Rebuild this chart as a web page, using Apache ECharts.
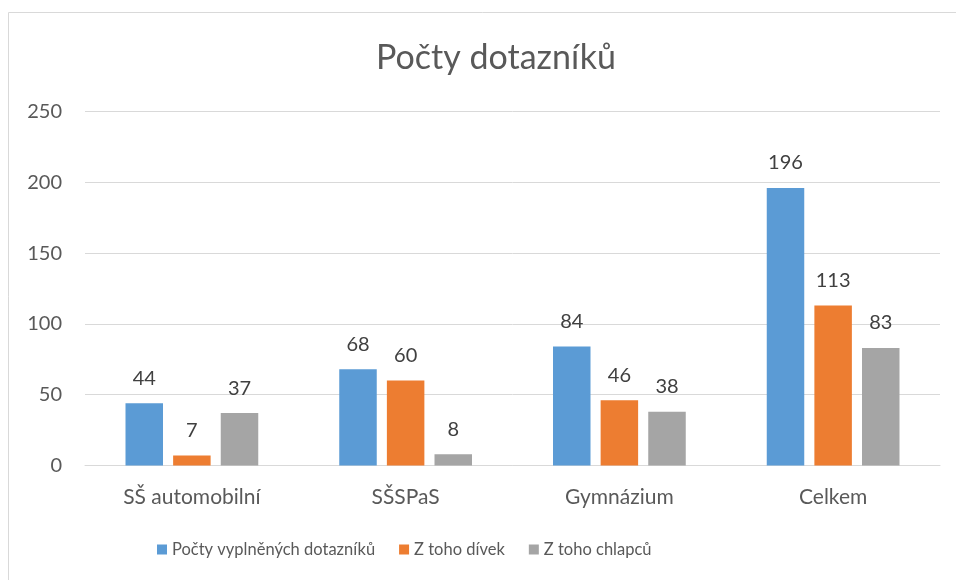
<!DOCTYPE html>
<html><head><meta charset="utf-8">
<script src="https://cdn.jsdelivr.net/npm/echarts@6/dist/echarts.min.js"></script>
<style>html,body{margin:0;padding:0;background:#fff}#c{width:956px;height:580px}</style>
</head><body><div id="c"></div>
<script>
const categories = ['SŠ automobilní', 'SŠSPaS', 'Gymnázium', 'Celkem'];
const seriesNames = ['Počty vyplněných dotazníků', 'Z toho dívek', 'Z toho chlapců'];
const vyplneno = [44, 68, 84, 196];
const divky = [7, 60, 46, 113];
const chlapci = [37, 8, 38, 83];
const colors = ['#5b9bd5', '#ed7d31', '#a5a5a5'];
const font = 'Lato, "Open Sans", sans-serif';
const chart = echarts.init(document.getElementById('c'));
const values = [vyplneno, divky, chlapci];
chart.setOption({
  animation: false,
  title: { text: 'Počty dotazníků', left: 371, top: 36,
    textStyle: { fontFamily: font, fontSize: 34, fontWeight: 'normal', color: '#595959' } },
  graphic: [{ type: 'rect', shape: { x: 8.5, y: 12.5, width: 960, height: 600 },
    style: { fill: 'none', stroke: '#d9d9d9', lineWidth: 1 }, silent: true }],
  legend: { bottom: 17, left: 152, itemWidth: 10, itemHeight: 10, itemGap: 24,
    icon: 'rect', textStyle: { fontFamily: font, fontSize: 16.5, color: '#595959' } },
  grid: { left: 85, right: 16, top: 111.5, bottom: 114.5 },
  xAxis: { type: 'category', data: categories,
    axisLine: { lineStyle: { color: '#d9d9d9' } }, axisTick: { show: false },
    axisLabel: { fontFamily: font, fontSize: 21, color: '#595959', margin: 21 } },
  yAxis: { type: 'value', min: 0, max: 250, interval: 50,
    axisLine: { show: false }, axisTick: { show: false },
    splitLine: { lineStyle: { color: '#d9d9d9' } },
    axisLabel: { fontFamily: font, fontSize: 20, color: '#595959', margin: 23 } },
  series: seriesNames.map((n, i) => ({
    name: n, type: 'bar', data: values[i], barWidth: 37.5, barGap: '27%',
    itemStyle: { color: colors[i] },
    label: { show: true, position: 'top', distance: 15, fontFamily: font, fontSize: 20, color: '#404040' }
  }))
});
</script></body></html>
